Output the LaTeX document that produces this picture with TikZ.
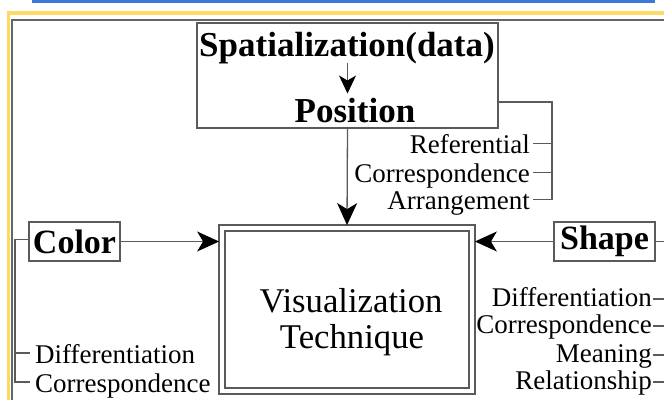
\documentclass[tikz,border=0pt]{standalone}
\usepackage{fontspec}
\setmainfont{Liberation Serif}
\usetikzlibrary{arrows.meta}
\definecolor{linkblue}{HTML}{3C78D8}
\definecolor{frameyellow}{HTML}{FFD966}
\definecolor{framegray}{HTML}{666666}
\definecolor{linegray}{HTML}{5A5A5A}
\begin{document}
\begin{tikzpicture}[x=1pt,y=-1pt,
  box/.style={draw=linegray, line width=1.3pt},
  boxlabel/.style={box, font=\fontsize{34}{36}\selectfont\bfseries, inner sep=0pt},
  big/.style={font=\fontsize{35}{37}\selectfont\bfseries, inner sep=0pt},
  lab/.style={font=\fontsize{27}{29}\selectfont, inner sep=0pt},
  vtlab/.style={font=\fontsize{34.7}{36}\selectfont, inner sep=0pt},
  conn/.style={draw=linegray, line width=1.3pt},
  arr/.style={conn, -{Stealth[length=22pt,width=20pt,inset=6pt,color=black]}},
  smallarr/.style={conn, line width=1pt, -{Stealth[length=18pt,width=17pt,inset=5pt,color=black]}}
]
\useasboundingbox (0,0) rectangle (664,399);
\fill[white] (0,0) rectangle (664,399);
% page decorations
\draw[linkblue, line width=3pt] (32,1.5) -- (655,1.5);
\draw[frameyellow, line width=3.8pt] (8.5,400) -- (8.5,13) -- (665,13);
\draw[framegray, line width=1.7pt] (11.8,400) -- (11.8,20) -- (665,20);

% top box
\node[box, minimum width=301pt, minimum height=105pt, inner sep=0pt] (spat) at (347.5,75.5) {};
\node[big, anchor=base] (spt) at (347,56) {Spatialization(data)};
\node[big, anchor=base] (pos) at (355,122) {Position};
\draw[smallarr] ([yshift=1pt]spt.south -| spat.center) -- ([yshift=4pt]pos.north -| spat.center);

% central box
\node[draw=linegray, double=white, double distance=4.5pt, line width=1.3pt,
      minimum width=250pt, minimum height=163pt, outer sep=2.9pt] (vt) at (347,309.5) {};
\node[vtlab, anchor=base] (vis) at (351,312) {Visualization};
\node[vtlab, anchor=base] (tec) at (352,348) {Technique};

\draw[arr] (spat.south) -- (vt.north);

% position labels
\node[lab, anchor=base east] (pref) at (530,153) {Referential};
\node[lab, anchor=base east] (pcor) at (530,182) {Correspondence};
\node[lab, anchor=base east] (parr) at (530,209) {Arrangement};
\draw[conn] ([yshift=-26.5pt]spat.east) -| ([xshift=22pt,yshift=9.5pt]parr.base east) -- ([xshift=3pt,yshift=9.5pt]parr.base east);
\draw[conn] ([xshift=22pt,yshift=9.5pt]pref.base east) -- ([xshift=3pt,yshift=9.5pt]pref.base east);
\draw[conn] ([xshift=22pt,yshift=9.5pt]pcor.base east) -- ([xshift=3pt,yshift=9.5pt]pcor.base east);

% color
\node[boxlabel, minimum width=91pt, minimum height=39pt] (color) at (74.5,241.5) {Color};
\draw[arr] (color.east) -- (color.east -| vt.west);
\node[lab, anchor=base west] (cdiff) at (35,363) {Differentiation};
\node[lab, anchor=base west] (ccor) at (35,392) {Correspondence};
\draw[conn] ([yshift=2pt]color.west) -| ([xshift=-20pt,yshift=10pt]ccor.base west) -- ([xshift=-5pt,yshift=10pt]ccor.base west);
\draw[conn] ([xshift=-20pt,yshift=10pt]cdiff.base west) -- ([xshift=-5pt,yshift=10pt]cdiff.base west);

% shape
\node[boxlabel, minimum width=101pt, minimum height=39pt] (shape) at (604.5,241.5) {Shape};
\draw[arr] (shape.west) -- (shape.west -| vt.east);
\node[lab, anchor=base east] (sdiff) at (652,306) {Differentiation};
\node[lab, anchor=base east] (scor) at (652,333) {Correspondence};
\node[lab, anchor=base east] (smean) at (652,362) {Meaning};
\node[lab, anchor=base east] (srel) at (652,389) {Relationship};
\draw[conn] (shape.east) -| ([xshift=14pt,yshift=7pt]srel.base east) -- ([xshift=1pt,yshift=7pt]srel.base east);
\draw[conn] ([xshift=14pt,yshift=7pt]sdiff.base east) -- ([xshift=1pt,yshift=7pt]sdiff.base east);
\draw[conn] ([xshift=14pt,yshift=7pt]scor.base east) -- ([xshift=1pt,yshift=7pt]scor.base east);
\draw[conn] ([xshift=14pt,yshift=7pt]smean.base east) -- ([xshift=1pt,yshift=7pt]smean.base east);
\end{tikzpicture}
\end{document}
